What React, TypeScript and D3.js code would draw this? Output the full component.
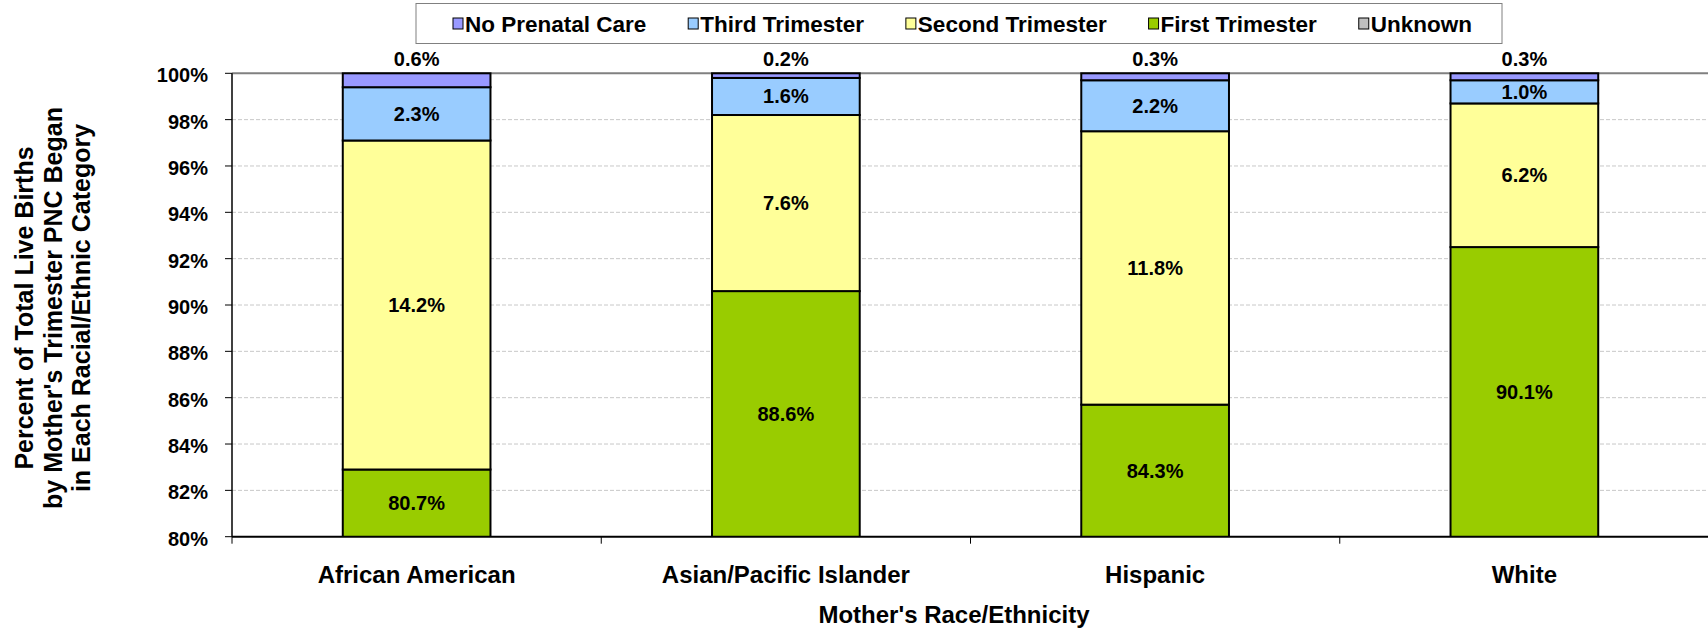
import React from "react";
import * as d3 from "d3";

const categories = ["African American", "Asian/Pacific Islander", "Hispanic", "White"];
const seriesNames = ["Unknown", "First Trimester", "Second Trimester", "Third Trimester", "No Prenatal Care"];
const unknownVals = [2.2, 2.0, 1.4, 2.4];
const firstVals = [80.7, 88.6, 84.3, 90.1];
const secondVals = [14.2, 7.6, 11.8, 6.2];
const thirdVals = [2.3, 1.6, 2.2, 1.0];
const noCareVals = [0.6, 0.2, 0.3, 0.3];
const yTicks = [80, 82, 84, 86, 88, 90, 92, 94, 96, 98, 100];
const legendOrder = ["No Prenatal Care", "Third Trimester", "Second Trimester", "First Trimester", "Unknown"];

const colors: Record<string, string> = {
  "Unknown": "#C0C0C0",
  "First Trimester": "#99CC00",
  "Second Trimester": "#FFFF99",
  "Third Trimester": "#99CCFF",
  "No Prenatal Care": "#9999FF",
};

const W = 1708, H = 630;
const M = { left: 232, right: 1709, top: 73.3, bottom: 536.7 };
const FONT = '"Liberation Sans", Arial, sans-serif';

function measure(text: string, size: number) {
  const c = document.createElement("canvas").getContext("2d");
  if (!c) return text.length * size * 0.55;
  c.font = `bold ${size}px ${FONT}`;
  return c.measureText(text).width;
}

export default function App() {
  const x = d3.scaleBand<string>().domain(categories).range([M.left, M.right]).paddingInner(0.6).paddingOuter(0.3);
  const y = d3.scaleLinear().domain([80, 100]).range([M.bottom, M.top]);
  const rows = categories.map((c, i) => ({
    cat: c,
    "Unknown": unknownVals[i],
    "First Trimester": firstVals[i],
    "Second Trimester": secondVals[i],
    "Third Trimester": thirdVals[i],
    "No Prenatal Care": noCareVals[i],
  }));
  const stack = d3.stack<any>().keys(seriesNames)(rows);
  const step = x.step();
  const bounds = categories.map((c) => (x(c) as number) - (step * x.paddingInner()) / 2);

  // legend layout
  const legSize = 22.5;
  const marker = 10, pad = 2;
  const contentL = 453, contentR = 1472;
  const widths = legendOrder.map((s) => marker + pad + measure(s, legSize));
  const gap = (contentR - contentL - d3.sum(widths)) / (legendOrder.length - 1);
  const boxL = 416, boxR = 1502, boxT = 3.5, boxB = 43.5;
  let cur = contentL;
  const legItems = legendOrder.map((s, i) => {
    const it = { s, x: cur };
    cur += widths[i] + gap;
    return it;
  });
  const legCy = (boxT + boxB) / 2;

  return (
    <svg width={W} height={H} style={{ position: "absolute", left: 0, top: 0, background: "#fff" }} fontFamily={FONT} fontWeight="bold">
      <defs>
        <clipPath id="plotclip">
          <rect x={M.left} y={M.top - 2} width={M.right - M.left} height={M.bottom - M.top + 2} />
        </clipPath>
      </defs>
      <rect x={0} y={0} width={W} height={H} fill="#fff" />
      {/* gridlines */}
      {yTicks.filter((t) => t > 80 && t < 100).map((t) => (
        <line key={t} x1={M.left} x2={M.right} y1={y(t)} y2={y(t)} stroke="#C8C8C8" strokeWidth={1} strokeDasharray="4 2" />
      ))}
      {/* plot border top */}
      <line x1={M.left} x2={M.right} y1={M.top} y2={M.top} stroke="#808080" strokeWidth={2} />
      {/* bars */}
      <g clipPath="url(#plotclip)">
        {stack.map((s) => (
          <g key={s.key}>
            {s.map((d, i) => (
              <rect key={i} x={x(categories[i])} width={x.bandwidth()} y={y(d[1])} height={y(d[0]) - y(d[1])}
                fill={colors[s.key]} stroke="#000" strokeWidth={2} />
            ))}
          </g>
        ))}
      </g>
      {/* axes */}
      <line x1={M.left} x2={M.left} y1={M.top} y2={M.bottom} stroke="#000" strokeWidth={1.5} />
      <line x1={M.left} x2={M.right} y1={M.bottom} y2={M.bottom} stroke="#000" strokeWidth={2} />
      {yTicks.map((t) => (
        <g key={t}>
          <line x1={M.left - 7} x2={M.left} y1={y(t)} y2={y(t)} stroke="#000" strokeWidth={1} />
          <text x={208} y={y(t) + 2} textAnchor="end" dominantBaseline="central" fontSize={20}>{t}%</text>
        </g>
      ))}
      {bounds.map((b, i) => (
        <line key={i} x1={b} x2={b} y1={M.bottom} y2={M.bottom + 7} stroke="#000" strokeWidth={1} />
      ))}
      {categories.map((c) => (
        <text key={c} x={(x(c) as number) + x.bandwidth() / 2} y={583} textAnchor="middle" fontSize={24}>{c}</text>
      ))}
      {/* data labels */}
      {stack.filter((s) => s.key !== "Unknown").map((s) => (
        <g key={s.key}>
          {s.map((d, i) => {
            const v = (d.data as any)[s.key] as number;
            const cx = (x(categories[i]) as number) + x.bandwidth() / 2;
            let cy: number;
            if (s.key === "No Prenatal Care") {
              cy = y(100) - 14;
            } else {
              const lo = Math.max(d[0], 80), hi = Math.min(d[1], 100);
              cy = (y(lo) + y(hi)) / 2;
            }
            return (
              <text key={i} x={cx} y={cy} textAnchor="middle" dominantBaseline="central" fontSize={20}>{v.toFixed(1)}%</text>
            );
          })}
        </g>
      ))}
      {/* axis titles */}
      <text x={954} y={623} textAnchor="middle" fontSize={24}>Mother's Race/Ethnicity</text>
      <g transform={`translate(0, 308) rotate(-90)`}>
        <text x={0} y={33} textAnchor="middle" fontSize={25}>Percent of Total Live Births</text>
        <text x={0} y={61.5} textAnchor="middle" fontSize={25}>by Mother's Trimester PNC Began</text>
        <text x={0} y={90} textAnchor="middle" fontSize={25}>in Each Racial/Ethnic Category</text>
      </g>
      {/* legend */}
      <rect x={boxL} y={boxT} width={boxR - boxL} height={boxB - boxT} fill="#fff" stroke="#808080" strokeWidth={1} />
      {legItems.map((it) => (
        <g key={it.s}>
          <rect x={it.x} y={legCy - 5.5} width={marker} height={11} fill={colors[it.s]} stroke="#000" strokeWidth={1} />
          <text x={it.x + marker + pad} y={legCy + 1} dominantBaseline="central" fontSize={legSize}>{it.s}</text>
        </g>
      ))}
    </svg>
  );
}
